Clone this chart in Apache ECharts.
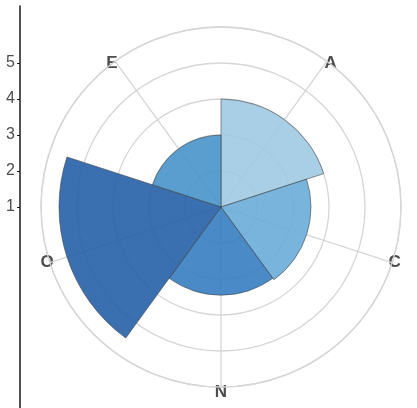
<!DOCTYPE html>
<html>
<head>
<meta charset="utf-8">
<script src="https://cdn.jsdelivr.net/npm/echarts@6/dist/echarts.min.js"></script>
<style>
  html, body { margin: 0; padding: 0; background: #fff; }
  #chart { width: 417px; height: 408px; }
</style>
</head>
<body>
<div id="chart"></div>
<script>
// categories, clockwise from the top
var categories = ['A', 'C', 'N', 'O', 'E'];
// radial values read against the left axis (1 = centre)
var values = [4.0, 3.5, 3.45, 5.5, 3.0];
var barColors = ['#9fcae2', '#6aacd8', '#367dc0', '#255fa7', '#4893ca'];
// tick labels of the left axis
var radialTicks = [1, 2, 3, 4, 5];

var gridColor = '#d6d6d6';
var textColor = '#4d4d4d';

var myChart = echarts.init(document.getElementById('chart'), null, {renderer: 'canvas'});

var barData = [];
for (var i = 0; i < values.length; i++) {
    barData.push({value: values[i], itemStyle: {color: barColors[i]}});
}

// angle labels: squeeze the line box so the letters sit on the outer circle,
// N (straight down) keeps a normal line height
var angleData = categories.map(function (c) {
    if (c === 'N') return {value: c, textStyle: {lineHeight: 18}};
    return c;
});

var option = {
    animation: false,
    // separate cartesian axis only for the vertical scale on the left
    grid: {left: 20, right: 10, top: 6, bottom: 0, containLabel: false},
    xAxis: {type: 'value', show: false, min: 0, max: 1},
    yAxis: {
        type: 'value',
        min: 1 - 201 / 36,
        max: 1 + 201 / 36,
        axisLine: {show: true, lineStyle: {color: '#1a1a1a', width: 1.5}},
        axisTick: {show: true, length: 3, customValues: radialTicks, lineStyle: {color: '#1a1a1a'}},
        axisLabel: {
            customValues: radialTicks,
            color: textColor,
            fontSize: 16,
            fontFamily: 'Liberation Sans, Arial, sans-serif',
            margin: 5
        },
        splitLine: {show: false}
    },
    polar: {center: [221, 207], radius: 180},
    angleAxis: {
        type: 'category',
        data: angleData,
        startAngle: 90,
        clockwise: true,
        z: 1,
        axisLine: {show: true, lineStyle: {color: gridColor, width: 1.3}},
        axisTick: {show: false, alignWithLabel: true},
        axisLabel: {
            color: textColor,
            fontSize: 17,
            fontWeight: 'bold',
            fontFamily: 'Liberation Sans, Arial, sans-serif',
            lineHeight: 2,
            margin: -4
        },
        splitLine: {show: true, lineStyle: {color: gridColor, width: 1.3}}
    },
    radiusAxis: {
        type: 'value',
        min: 1,
        max: 6,
        interval: 1,
        z: 1,
        axisLine: {show: false},
        axisTick: {show: false},
        axisLabel: {show: false},
        splitLine: {show: true, lineStyle: {color: gridColor, width: 1.3}}
    },
    series: [{
        type: 'bar',
        coordinateSystem: 'polar',
        data: barData,
        barCategoryGap: '0%',
        clip: true,
        z: 2,
        itemStyle: {opacity: 0.9, borderColor: '#3c3c3c', borderWidth: 0.6}
    }]
};

myChart.setOption(option);
</script>
</body>
</html>
